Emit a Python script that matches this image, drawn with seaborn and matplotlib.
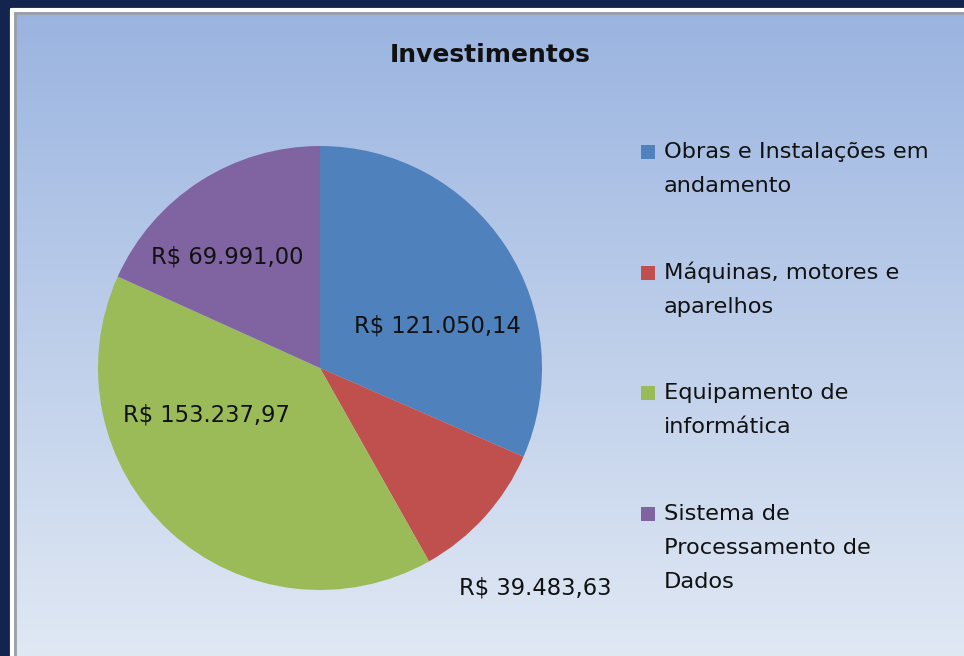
import numpy as np
import matplotlib
matplotlib.use("Agg")
import matplotlib.pyplot as plt
from matplotlib.patches import Rectangle
import seaborn as sns

# dados
categorias = ["Obras e Instalações em\nandamento",
              "Máquinas, motores e\naparelhos",
              "Equipamento de\ninformática",
              "Sistema de\nProcessamento de\nDados"]
valores = [121050.14, 39483.63, 153237.97, 69991.00]
cores = ["#4f81bd", "#c0504d", "#9bbb59", "#8064a2"]

# posição dos rótulos (em unidades do raio)
pos_rotulos = [(0.53, 0.19), (0.97, -0.99), (-0.51, -0.21), (-0.42, 0.50)]


def brl(v):
    s = f"{v:,.2f}".replace(",", "X").replace(".", ",").replace("X", ".")
    return "R$ " + s


sns.set_style("white")
plt.rcParams["font.family"] = ["DejaVu Sans"]

W, H = 964, 656
fig = plt.figure(figsize=(W / 100, H / 100), dpi=100)
fig.patch.set_facecolor("#13254f")

# fundo com gradiente
bg = fig.add_axes([10 / W, 0, 1 - 10 / W, 1 - 8 / H])
grad = np.linspace(0, 1, 256).reshape(-1, 1)
top = np.array([0x9a, 0xb4, 0xe0]) / 255
bot = np.array([0xe0, 0xe8, 0xf4]) / 255
img = top + (bot - top) * grad[:, :, None]
bg.imshow(img, aspect="auto", extent=[0, 1, 0, 1], origin="upper")
bg.set_xlim(0, 1)
bg.set_ylim(0, 1)
bg.axis("off")
# borda branca e cinza
fig.add_artist(plt.Line2D([12 / W, 12 / W], [0, 1 - 10 / H], color="white", lw=3, transform=fig.transFigure))
fig.add_artist(plt.Line2D([12 / W, 1], [1 - 10 / H, 1 - 10 / H], color="white", lw=3, transform=fig.transFigure))
fig.add_artist(plt.Line2D([15 / W, 15 / W], [0, 1 - 13 / H], color="#9a9ea6", lw=2, transform=fig.transFigure))
fig.add_artist(plt.Line2D([15 / W, 1], [1 - 13 / H, 1 - 13 / H], color="#9a9ea6", lw=2, transform=fig.transFigure))

cx, cy, r = 320, 368, 222
ax = fig.add_axes([(cx - r) / W, (H - cy - r) / H, 2 * r / W, 2 * r / H])
ax.set_facecolor("none")
wedges, _ = ax.pie(valores, colors=cores, startangle=90, counterclock=False,
                   radius=1, wedgeprops=dict(linewidth=0))
ax.set_xlim(-1, 1)
ax.set_ylim(-1, 1)
ax.set_aspect("equal")
ax.axis("off")

for v, (x, y) in zip(valores, pos_rotulos):
    ax.text(x, y, brl(v), ha="center", va="center", fontsize=16.3, color="#111111",
            clip_on=False)

fig.text(490 / W, 1 - 55 / H, "Investimentos", ha="center", va="center",
         fontsize=18, fontweight="bold", color="#111111")

# legenda
leg_x, leg_y0, passo_item, passo_linha = 664, 152, 120.5, 34
for i, (nome, cor) in enumerate(zip(categorias, cores)):
    y0 = leg_y0 + i * passo_item
    fig.add_artist(Rectangle(((641) / W, 1 - (y0 + 7) / H), 14 / W, 14 / H,
                             facecolor=cor, edgecolor="none", transform=fig.transFigure))
    for j, linha in enumerate(nome.split("\n")):
        fig.text(leg_x / W, 1 - (y0 + j * passo_linha) / H, linha, ha="left", va="center",
                 fontsize=16.2, color="#111111")

fig.savefig("out.png", dpi=100, facecolor=fig.get_facecolor())
